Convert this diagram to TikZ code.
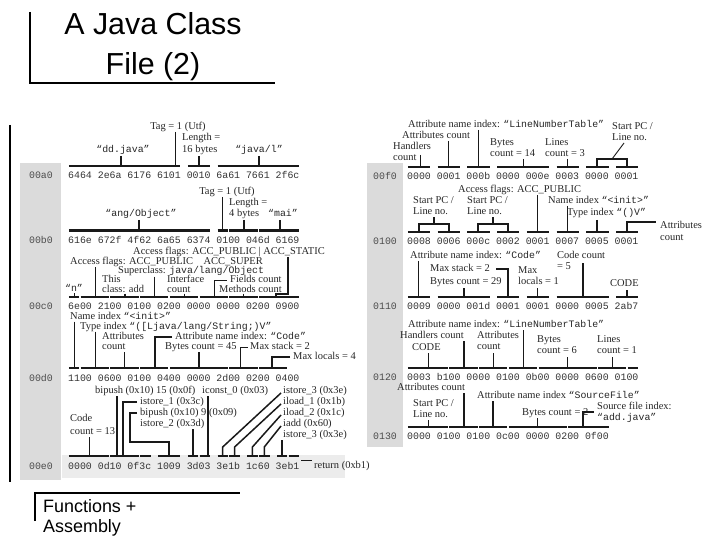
\documentclass[tikz,border=0pt]{standalone}
\usepackage{fontspec}
\setmainfont{Liberation Serif}
\setmonofont{Liberation Mono}
\newfontfamily\sansfam{Liberation Sans}
\newcommand\monot[1]{{\fontsize{9.9}{11}\ttfamily #1}}
\newcommand\hexbar[4]{\draw[hbar] ({#1+5.95*#2+0.8},#4) -- ({#1+5.95*(#3+1)-0.8},#4);}
\tikzset{
 lab/.style={font=\fontsize{10.5}{12}\selectfont, text=black!85, inner sep=0pt, anchor=west, text height=7.5bp, text depth=2.5bp},
 hexrow/.style={font=\fontsize{9.917}{11}\ttfamily, text=black!80, inner sep=0pt, anchor=west},
 addr/.style={font=\fontsize{9.917}{11}\ttfamily, text=black!70, inner sep=0pt},
 hbar/.style={line width=2.2bp, black!90},
 thk/.style={line width=2bp, black!90},
 thn/.style={line width=0.9bp, black!90},
 dia/.style={line width=1.5bp, black!90},
}
\begin{document}
\begin{tikzpicture}[x=1bp,y=-1bp]
\path[use as bounding box] (0,0) rectangle (720,540);
% title and frame lines
\node[font=\sansfam\fontsize{30.5}{40}\selectfont, align=center] (title) at (153,47) {A Java Class\\File (2)};
\draw[line width=1.6bp] (30,12) -- (30,83) -- (275,83);
\draw[line width=2.4bp] (10,125) -- (10,482);
\node[font=\sansfam\fontsize{18}{20}\selectfont, align=left, anchor=north west, inner sep=0pt] (foot) at (43,499) {Functions +\\Assembly};
\draw[line width=1.4bp] (35,521) -- (35,493) -- (240,493);
% gray strips
\fill[gray!28] (20,163) rectangle (61,480);
\fill[gray!28] (367,163) rectangle (403,447);
\fill[gray!15] (62,455) rectangle (345,478);
% ---------------- LEFT ----------------
% row 00a0
\node[addr] (aa0) at (41,175) {00a0};
\node[hexrow] (ha0) at (68,175) {6464 2e6a 6176 6101 0010 6a61 7661 2f6c};
\hexbar{68}{0}{18}{166}
\hexbar{68}{20}{23}{166}
\hexbar{68}{25}{38}{166}
\node[lab, anchor=center] (ta0) at (178,127) {Tag = 1 (Utf)};
\draw[thn] (175,132) -- (175,166);
\node[lab] (la0a) at (182,138) {Length =};
\node[lab] (la0b) at (182,150) {16 bytes};
\draw[thk] (199,156) -- (199,166);
\node[lab, anchor=center] (da0) at (123,150) {\monot{“dd.java”}};
\draw[thk] (121,156) -- (121,166);
\node[lab, anchor=center] (ja0) at (259,150) {\monot{“java/l”}};
\draw[thk] (258.5,156) -- (258.5,166);
% row 00b0
\node[addr] (ab0) at (41,239.5) {00b0};
\node[hexrow] (hb0) at (68,239.5) {616e 672f 4f62 6a65 6374 0100 046d 6169};
\hexbar{68}{0}{23}{230.5}
\hexbar{68}{25}{26}{230.5}
\hexbar{68}{27}{31}{230.5}
\hexbar{68}{32}{38}{230.5}
\node[lab, anchor=center] (tb0) at (227,192) {Tag = 1 (Utf)};
\draw[thn] (222.7,197) -- (222.7,230.5);
\node[lab] (lb0a) at (229,203) {Length =};
\node[lab] (lb0b) at (229,214) {4 bytes};
\draw[thk] (243.5,220) -- (243.5,230.5);
\node[lab, anchor=center] (ob0) at (141,214) {\monot{“ang/Object”}};
\draw[thk] (139.4,220) -- (139.4,230.5);
\node[lab, anchor=center] (mb0) at (283,214) {\monot{“mai”}};
\draw[thk] (280,220) -- (280,230.5);
% row 00c0
\node[addr] (ac0) at (41,306) {00c0};
\node[hexrow] (hc0) at (68,306) {6e00 2100 0100 0200 0000 0000 0200 0900};
\hexbar{68}{0}{1}{297}
\hexbar{68}{2}{6}{297}
\hexbar{68}{7}{11}{297}
\hexbar{68}{12}{16}{297}
\hexbar{68}{17}{21}{297}
\hexbar{68}{22}{26}{297}
\hexbar{68}{27}{31}{297}
\hexbar{68}{32}{38}{297}
\node[lab] (c1) at (133,252.5) {Access flags: ACC\_PUBLIC | ACC\_STATIC};
\draw[thk] (288,257.5) -- (288,293.5) -- (276,293.5) -- (276,297);
\node[lab] (c2) at (70,262) {Access flags: ACC\_PUBLIC\quad ACC\_SUPER};
\draw[thn] (95,267) -- (95,297);
\node[lab] (c3) at (118,271.5) {Superclass: \monot{java/lang/Object}};
\draw[thn] (154.3,276.5) -- (154.3,297);
\node[lab] (c4) at (102,280.5) {This};
\node[lab] (c5) at (102,289.5) {class: add};
\draw[thk] (124.5,293.5) -- (124.5,297);
\node[lab] (c6) at (167,280.5) {Interface};
\node[lab] (c7) at (167,289.5) {count};
\draw[thn] (184,293.5) -- (184,297);
\node[lab] (c8) at (230,280.5) {Fields count};
\draw[thn] (214,297) -- (214,280.5) -- (227,280.5);
\node[lab] (c9) at (219,289.5) {Methods count};
\draw[thn] (243.5,293.5) -- (243.5,297);
\node[lab, anchor=center] (c10) at (74,289) {\monot{“n”}};
\draw[thn] (74,293) -- (74,297);
% row 00d0
\node[addr] (ad0) at (41,378) {00d0};
\node[hexrow] (hd0) at (68,378) {1100 0600 0100 0400 0000 2d00 0200 0400};
\hexbar{68}{0}{1}{368}
\hexbar{68}{2}{6}{368}
\hexbar{68}{7}{11}{368}
\hexbar{68}{12}{16}{368}
\hexbar{68}{17}{26}{368}
\hexbar{68}{27}{31}{368}
\hexbar{68}{32}{36}{368}
\node[lab] (d1) at (70,316.5) {Name index \monot{“<init>”}};
\draw[thn] (74,321.5) -- (74,368);
\node[lab] (d2) at (80,326.5) {Type index \monot{“([Ljava/lang/String;)V”}};
\draw[thn] (95,331.5) -- (95,368);
\node[lab] (d3) at (102,337) {Attributes};
\node[lab] (d4) at (102,347) {count};
\draw[thn] (124.5,352) -- (124.5,368);
\node[lab] (d5) at (175,337) {Attribute name index: \monot{“Code”}};
\draw[thk] (172,337) -- (155,337) -- (155,368);
\node[lab] (d6) at (165,347) {Bytes count = 45};
\draw[thk] (199,352) -- (199,368);
\node[lab] (d7) at (250,347) {Max stack = 2};
\draw[thn] (240,368) -- (240,347) -- (248,347);
\node[lab] (d8) at (293,357) {Max locals = 4};
\draw[thk] (290,357) -- (272,357) -- (272,368);
% row 00e0
\node[addr] (ae0) at (41,466) {00e0};
\node[hexrow] (he0) at (68,466) {0000 0d10 0f3c 1009 3d03 3e1b 1c60 3eb1};
\hexbar{68}{0}{6}{456}
\hexbar{68}{7}{11}{456}
\hexbar{68}{12}{13}{456}
\hexbar{68}{15}{18}{456}
\hexbar{68}{20}{21}{456}
\hexbar{68}{22}{23}{456}
\hexbar{68}{25}{26}{456}
\hexbar{68}{27}{28}{456}
\hexbar{68}{30}{31}{456}
\hexbar{68}{32}{33}{456}
\hexbar{68}{35}{36}{456}
\hexbar{68}{37}{38}{456}
\node[lab] (e1) at (95,391) {bipush (0x10) 15 (0x0f)};
\node[lab] (e2) at (202,391) {iconst\_0 (0x03)};
\node[lab] (e3) at (283,391) {istore\_3 (0x3e)};
\node[lab] (e4) at (140,402) {istore\_1 (0x3c)};
\node[lab] (e5) at (283,402) {iload\_1 (0x1b)};
\node[lab] (e6) at (70,419) {Code};
\node[lab] (e7) at (140,413) {bipush (0x10) 9 (0x09)};
\node[lab] (e8) at (283,413) {iload\_2 (0x1c)};
\node[lab] (e9) at (140,424) {istore\_2 (0x3d)};
\node[lab] (e10) at (283,424) {iadd (0x60)};
\node[lab] (e11) at (70,432) {count = 13};
\node[lab] (e12) at (283,435) {istore\_3 (0x3e)};
\node[lab] (e13) at (314,466) {return (0xb1)};
\draw[thn] (89,437) -- (89,456);
\draw[thk] (117,396) -- (117,456);
\draw[thk] (137,402) -- (123,402) -- (123,456);
\draw[thk] (137,413) -- (130,413) -- (130,442) -- (169,442) -- (169,456);
\draw[thk] (193,429) -- (193,456);
\draw[thk] (208,396) -- (208,456);
\draw[dia] (281,393) -- (222.7,447) -- (222.7,456);
\draw[dia] (281,404) -- (234.6,447) -- (234.6,456);
\draw[dia] (281,415) -- (252.4,447) -- (252.4,456);
\draw[dia] (281,426) -- (264.3,447) -- (264.3,456);
\draw[dia] (282,440) -- (282,456);
\draw[thn] (301,460) -- (312,460);
% ---------------- RIGHT ----------------
% row 00f0
\node[addr] (af0) at (385,176) {00f0};
\node[hexrow] (hf0) at (407,176) {0000 0001 000b 0000 000e 0003 0000 0001};
\hexbar{407}{0}{3}{167}
\hexbar{407}{5}{8}{167}
\hexbar{407}{10}{13}{167}
\hexbar{407}{15}{23}{167}
\hexbar{407}{25}{28}{167}
\hexbar{407}{30}{33}{167}
\hexbar{407}{35}{38}{167}
\node[lab] (f1) at (408,125) {Attribute name index: \monot{“LineNumberTable”}};
\draw[thn] (478.4,130) -- (478.4,167);
\node[lab] (f2) at (402,136) {Attributes count};
\draw[thn] (448.6,141) -- (448.6,167);
\node[lab] (f3) at (393,147) {Handlers};
\node[lab] (f4) at (393,158) {count};
\draw[thn] (420,155) -- (420,167);
\node[lab] (f5) at (490,143) {Bytes};
\node[lab] (f6) at (490,154) {count = 14};
\draw[thn] (523,159) -- (523,167);
\node[lab] (f7) at (545,143) {Lines};
\node[lab] (f8) at (545,154) {count = 3};
\draw[thn] (567.6,159) -- (567.6,167);
\node[lab] (f9) at (612,127) {Start PC /};
\node[lab] (f10) at (612,138) {Line no.};
\draw[thk] (597.4,167) -- (597.4,159) -- (627.2,159) -- (627.2,167);
\draw[thn] (612,159) -- (624,143);
% row 0100
\node[addr] (ag0) at (385,241) {0100};
\node[hexrow] (hg0) at (407,241) {0008 0006 000c 0002 0001 0007 0005 0001};
\hexbar{407}{0}{3}{232}
\hexbar{407}{5}{8}{232}
\hexbar{407}{10}{13}{232}
\hexbar{407}{15}{18}{232}
\hexbar{407}{20}{23}{232}
\hexbar{407}{25}{28}{232}
\hexbar{407}{30}{33}{232}
\hexbar{407}{35}{38}{232}
\node[lab] (g1) at (458,190) {Access flags: ACC\_PUBLIC};
\draw[thn] (537.9,195) -- (537.9,232);
\node[lab] (g2) at (413,201) {Start PC /};
\node[lab] (g3) at (413,212) {Line no.};
\node[lab] (g4) at (467,201) {Start PC /};
\node[lab] (g5) at (467,212) {Line no.};
\draw[thk] (418.9,232) -- (418.9,224) -- (448.6,224) -- (448.6,232);
\draw[thk] (433.8,224) -- (433.8,217);
\draw[thk] (478.4,232) -- (478.4,224) -- (508.1,224) -- (508.1,232);
\draw[thk] (493.3,224) -- (493.3,217);
\node[lab] (g6) at (548,201) {Name index \monot{“<init>”}};
\draw[thn] (567.6,206) -- (567.6,232);
\node[lab] (g7) at (567,213) {Type index \monot{“()V”}};
\draw[thk] (597.4,220) -- (597.4,232);
\node[lab] (g8) at (660,226) {Attributes};
\node[lab] (g9) at (660,238) {count};
\draw[thk] (627.2,232) -- (627.2,222) -- (656,222);
% row 0110
\node[addr] (ah0) at (385,306) {0110};
\node[hexrow] (hh0) at (407,306) {0009 0000 001d 0001 0001 0000 0005 2ab7};
\hexbar{407}{0}{3}{297}
\hexbar{407}{5}{13}{297}
\hexbar{407}{15}{18}{297}
\hexbar{407}{20}{23}{297}
\hexbar{407}{25}{33}{297}
\hexbar{407}{35}{38}{297}
\node[lab] (h1) at (410,256) {Attribute name index: \monot{“Code”}};
\draw[thn] (418.9,261) -- (418.9,297);
\node[lab] (h2) at (557,256) {Code count};
\node[lab] (h3) at (557,267) {= 5};
\draw[thk] (582.6,263) -- (582.6,297);
\node[lab] (h4) at (430,269) {Max stack = 2};
\draw[thk] (496,269) -- (508.1,269) -- (508.1,297);
\node[lab] (h5) at (430,282) {Bytes count = 29};
\draw[thk] (463.5,288) -- (463.5,297);
\node[lab] (h6) at (518,271) {Max};
\node[lab] (h7) at (518,282) {locals = 1};
\draw[thn] (537.9,288) -- (537.9,297);
\node[lab] (h8) at (610,284) {CODE};
\draw[thk] (627.2,290) -- (627.2,297);
% row 0120
\node[addr] (ai0) at (385,377) {0120};
\node[hexrow] (hi0) at (407,377) {0003 b100 0000 0100 0b00 0000 0600 0100};
\hexbar{407}{0}{6}{368}
\hexbar{407}{7}{11}{368}
\hexbar{407}{12}{16}{368}
\hexbar{407}{17}{21}{368}
\hexbar{407}{22}{31}{368}
\hexbar{407}{32}{36}{368}
\hexbar{407}{37}{38}{368}
\node[lab] (i1) at (408,325) {Attribute name index: \monot{“LineNumberTable”}};
\draw[thn] (523,330) -- (523,368);
\node[lab] (i2) at (400,336) {Handlers count};
\draw[thk] (463.5,341) -- (463.5,368);
\node[lab] (i3) at (412,348) {CODE};
\draw[thn] (428,353) -- (428,368);
\node[lab] (i4) at (477,336) {Attributes};
\node[lab] (i5) at (477,347) {count};
\draw[thn] (493.3,353) -- (493.3,368);
\node[lab] (i6) at (537,340) {Bytes};
\node[lab] (i7) at (537,351) {count = 6};
\draw[thn] (567.6,357) -- (567.6,368);
\node[lab] (i8) at (597,340) {Lines};
\node[lab] (i9) at (597,351) {count = 1};
\draw[thn] (612.3,357) -- (612.3,368);
% row 0130
\node[addr] (aj0) at (385,436) {0130};
\node[hexrow] (hj0) at (407,436) {0000 0100 0100 0c00 0000 0200 0f00};
\hexbar{407}{0}{6}{427}
\hexbar{407}{7}{11}{427}
\hexbar{407}{12}{16}{427}
\hexbar{407}{17}{26}{427}
\hexbar{407}{27}{33}{427}
\node[lab] (j1) at (397,388) {Attributes count};
\draw[thk] (463.5,393) -- (463.5,427);
\node[lab] (j2) at (477,396) {Attribute name index \monot{“SourceFile”}};
\draw[thk] (493.3,401) -- (493.3,427);
\node[lab] (j3) at (413,404) {Start PC /};
\node[lab] (j4) at (413,415) {Line no.};
\draw[thn] (428,420) -- (428,427);
\node[lab] (j5) at (522,413) {Bytes count = 2};
\draw[thn] (537.9,418) -- (537.9,427);
\node[lab] (j6) at (597,407) {Source file index:};
\node[lab] (j7) at (597,418) {\monot{“add.java”}};
\draw[thk] (582.6,427) -- (582.6,412) -- (594,412);
\end{tikzpicture}
\end{document}
